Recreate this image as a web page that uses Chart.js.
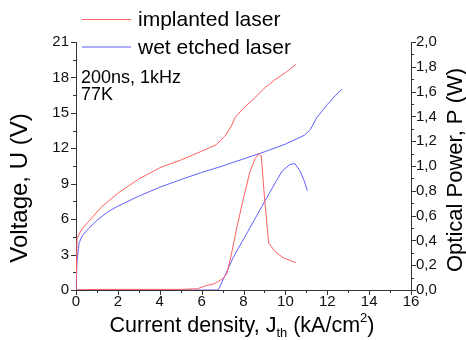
<!DOCTYPE html>
<html>
<head>
<meta charset="utf-8">
<script src="https://cdn.jsdelivr.net/npm/chart.js@4"></script>
<style>
  body { margin: 0; background: #fff; }
  #wrap { width: 466px; height: 340px; }
</style>
</head>
<body>
<div id="wrap"><canvas id="chart"></canvas></div>
<script>
// implanted laser: voltage and optical power vs current density
var implJv = [0, 0.05, 0.3, 0.7, 1.2, 2, 3, 4, 5, 6, 6.7, 7.1, 7.4, 7.6, 8, 8.5, 9, 9.5, 10, 10.5];
var implV = [0, 4.4, 5.2, 6.0, 7.0, 8.2, 9.4, 10.35, 11.0, 11.75, 12.3, 13.0, 13.8, 14.6, 15.4, 16.2, 17.1, 17.8, 18.4, 19.1];
var implJp = [0, 1, 2, 3, 4, 5, 5.8, 6.2, 6.6, 7.0, 7.2, 7.4, 7.7, 8.0, 8.3, 8.55, 8.75, 8.85, 9.0, 9.2, 9.5, 9.9, 10.2, 10.5];
var implP = [0, 0.005, 0.005, 0.005, 0.005, 0.005, 0.01, 0.035, 0.05, 0.09, 0.13, 0.27, 0.52, 0.74, 0.95, 1.06, 1.10, 1.08, 0.75, 0.38, 0.31, 0.26, 0.24, 0.22];

// wet etched laser
var wetJv = [0, 0.05, 0.15, 0.3, 0.6, 1, 1.5, 2, 3, 4, 5, 6, 7, 8, 9, 10, 10.9, 11.2, 11.5, 12, 12.4, 12.7];
var wetV = [0, 2.5, 4.0, 4.6, 5.2, 5.9, 6.6, 7.1, 7.95, 8.7, 9.35, 9.95, 10.5, 11.1, 11.7, 12.35, 13.1, 13.6, 14.6, 15.7, 16.5, 17.0];
var wetJp = [0, 6.8, 7.5, 8.2, 9.0, 9.5, 9.85, 10.2, 10.45, 10.7, 10.9, 11.05];
var wetP = [0, 0, 0.26, 0.47, 0.71, 0.86, 0.96, 1.01, 1.02, 0.96, 0.88, 0.80];

var seriesNames = ["implanted laser", "wet etched laser"];
var redColor = "#ff5f5f";
var blueColor = "#5f5fff";
var font = "'Liberation Sans', Arial, sans-serif";

function pts(xs, ys) {
  return xs.map(function (x, i) { return { x: x, y: ys[i] }; });
}

function lineSet(label, data, color, axis) {
  return {
    label: label,
    data: data,
    yAxisID: axis,
    borderColor: color,
    borderWidth: 1,
    pointRadius: 0,
    showLine: true,
    fill: false,
    tension: 0
  };
}

// ticks, legend and axis titles drawn on top
var decor = {
  id: "decor",
  afterDraw: function (chart) {
    var ctx = chart.ctx;
    var a = chart.chartArea;
    var sx = chart.scales.x, sy = chart.scales.y, sy1 = chart.scales.y1;
    ctx.save();
    ctx.strokeStyle = "#333";
    ctx.lineWidth = 1;
    ctx.beginPath();
    sx.ticks.forEach(function (t) {
      var px = Math.round(sx.getPixelForValue(t.value)) + 0.5;
      var len = t.value % 2 === 0 ? 5 : 3;
      ctx.moveTo(px, a.bottom);
      ctx.lineTo(px, a.bottom + len);
    });
    sy.ticks.forEach(function (t) {
      var py = Math.round(sy.getPixelForValue(t.value)) + 0.5;
      var len = Math.round(t.value / 1.5) % 2 === 0 ? 5 : 3;
      ctx.moveTo(a.left, py);
      ctx.lineTo(a.left - len, py);
    });
    sy1.ticks.forEach(function (t) {
      var py = Math.round(sy1.getPixelForValue(t.value)) + 0.5;
      var len = Math.round(t.value * 10) % 2 === 0 ? 5 : 3;
      ctx.moveTo(a.right, py);
      ctx.lineTo(a.right + len, py);
    });
    ctx.stroke();

    // legend
    var colors = [redColor, blueColor];
    ctx.font = "21px " + font;
    ctx.textBaseline = "middle";
    ctx.fillStyle = "#000";
    seriesNames.forEach(function (name, i) {
      var y = 19.5 + i * 27.5;
      ctx.strokeStyle = colors[i];
      ctx.beginPath();
      ctx.moveTo(82, y);
      ctx.lineTo(131, y);
      ctx.stroke();
      ctx.fillText(name, 138, y + 1);
    });

    // note
    ctx.font = "18px " + font;
    ctx.textBaseline = "alphabetic";
    ctx.fillText("200ns, 1kHz", 81, 83);
    ctx.fillText("77K", 81, 100);

    // left title
    ctx.font = "24px " + font;
    ctx.textAlign = "center";
    ctx.save();
    ctx.translate(27, 188);
    ctx.rotate(-Math.PI / 2);
    ctx.fillText("Voltage, U (V)", 0, 0);
    ctx.restore();

    // right title
    ctx.font = "22px " + font;
    ctx.save();
    ctx.translate(462, 170);
    ctx.rotate(-Math.PI / 2);
    ctx.fillText("Optical Power, P (W)", 0, 0);
    ctx.restore();

    // bottom title with sub/superscript
    ctx.textAlign = "left";
    var parts = [
      { t: "Current density, J", size: 21.5, dy: 0 },
      { t: "th", size: 13, dy: 5 },
      { t: " (kA/cm", size: 21.5, dy: 0 },
      { t: "2", size: 13, dy: -10 },
      { t: ")", size: 21.5, dy: 0 }
    ];
    var total = 0;
    parts.forEach(function (p) {
      ctx.font = p.size + "px " + font;
      p.w = ctx.measureText(p.t).width;
      total += p.w;
    });
    var x = 242 - total / 2;
    parts.forEach(function (p) {
      ctx.font = p.size + "px " + font;
      ctx.fillText(p.t, x, 332 + p.dy);
      x += p.w;
    });
    ctx.restore();
  }
};

var ctx = document.getElementById("chart").getContext("2d");
new Chart(ctx, {
  type: "scatter",
  data: {
    datasets: [
      lineSet(seriesNames[0], pts(implJv, implV), redColor, "y"),
      lineSet(seriesNames[0], pts(implJp, implP), redColor, "y1"),
      lineSet(seriesNames[1], pts(wetJv, wetV), blueColor, "y"),
      lineSet(seriesNames[1], pts(wetJp, wetP), blueColor, "y1")
    ]
  },
  options: {
    responsive: true,
    maintainAspectRatio: false,
    animation: false,
    layout: { padding: { top: 42, left: 0, right: 0, bottom: 0 } },
    plugins: { legend: { display: false }, tooltip: { enabled: false } },
    scales: {
      x: {
        type: "linear",
        min: 0,
        max: 16,
        ticks: {
          stepSize: 1,
          autoSkip: false,
          maxRotation: 0,
          padding: 0,
          color: "#111",
          font: { family: font, size: 15 },
          callback: function (v) { return v % 2 === 0 ? String(v) : ""; }
        },
        grid: { drawOnChartArea: false, tickLength: 3, tickColor: "rgba(0,0,0,0)" },
        border: { color: "#333", width: 1 },
        afterFit: function (s) { s.height = 50; }
      },
      y: {
        type: "linear",
        position: "left",
        min: 0,
        max: 21,
        ticks: {
          stepSize: 1.5,
          autoSkip: false,
          padding: 2,
          color: "#111",
          font: { family: font, size: 15 },
          callback: function (v) { return Math.round(v / 1.5) % 2 === 0 ? String(v) : ""; }
        },
        grid: { drawOnChartArea: false, tickLength: 5, tickColor: "rgba(0,0,0,0)" },
        border: { color: "#333", width: 1 },
        afterFit: function (s) { s.width = 76; }
      },
      y1: {
        type: "linear",
        position: "right",
        min: 0,
        max: 2,
        ticks: {
          stepSize: 0.1,
          autoSkip: false,
          padding: 0,
          color: "#111",
          font: { family: font, size: 15 },
          callback: function (v) {
            return Math.round(v * 10) % 2 === 0 ? v.toFixed(1).replace(".", ",") : "";
          }
        },
        grid: { drawOnChartArea: false, tickLength: 5, tickColor: "rgba(0,0,0,0)" },
        border: { color: "#333", width: 1 },
        afterFit: function (s) { s.width = 55; }
      }
    }
  },
  plugins: [decor]
});
</script>
</body>
</html>
